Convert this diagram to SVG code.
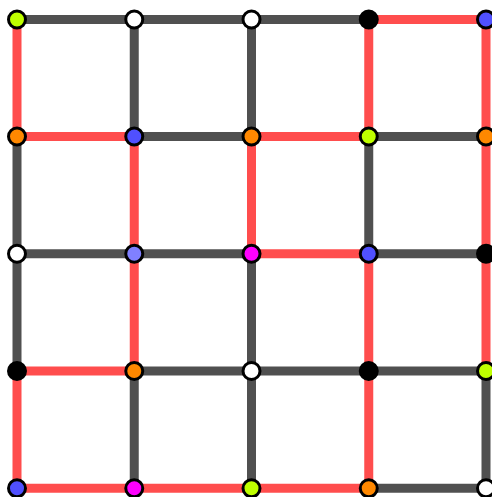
<svg xmlns="http://www.w3.org/2000/svg" width="492" height="497" viewBox="0 0 492 497">
<style>
.g{stroke:#505050;stroke-width:9;fill:none}
.r{stroke:#ff4d4d;stroke-width:9;fill:none}
circle{stroke:#000;stroke-width:3;r:8.5}
</style>
<rect width="492" height="497" fill="#fff"/>
<g id="connectors">
<line class="g" x1="17" y1="19.5" x2="134.25" y2="19.5"/>
<line class="g" x1="134.25" y1="19.5" x2="251.5" y2="19.5"/>
<line class="g" x1="251.5" y1="19.5" x2="368.75" y2="19.5"/>
<line class="r" x1="368.75" y1="19.5" x2="486" y2="19.5"/>
<line class="r" x1="17" y1="136.5" x2="134.25" y2="136.5"/>
<line class="g" x1="134.25" y1="136.5" x2="251.5" y2="136.5"/>
<line class="r" x1="251.5" y1="136.5" x2="368.75" y2="136.5"/>
<line class="g" x1="368.75" y1="136.5" x2="486" y2="136.5"/>
<line class="g" x1="17" y1="253.75" x2="134.25" y2="253.75"/>
<line class="g" x1="134.25" y1="253.75" x2="251.5" y2="253.75"/>
<line class="r" x1="251.5" y1="253.75" x2="368.75" y2="253.75"/>
<line class="g" x1="368.75" y1="253.75" x2="486" y2="253.75"/>
<line class="r" x1="17" y1="371" x2="134.25" y2="371"/>
<line class="g" x1="134.25" y1="371" x2="251.5" y2="371"/>
<line class="g" x1="251.5" y1="371" x2="368.75" y2="371"/>
<line class="g" x1="368.75" y1="371" x2="486" y2="371"/>
<line class="r" x1="17" y1="488.25" x2="134.25" y2="488.25"/>
<line class="r" x1="134.25" y1="488.25" x2="251.5" y2="488.25"/>
<line class="r" x1="251.5" y1="488.25" x2="368.75" y2="488.25"/>
<line class="g" x1="368.75" y1="488.25" x2="486" y2="488.25"/>
<line class="r" x1="17" y1="19.5" x2="17" y2="136.5"/>
<line class="g" x1="17" y1="136.5" x2="17" y2="253.75"/>
<line class="g" x1="17" y1="253.75" x2="17" y2="371"/>
<line class="r" x1="17" y1="371" x2="17" y2="488.25"/>
<line class="g" x1="134.25" y1="19.5" x2="134.25" y2="136.5"/>
<line class="r" x1="134.25" y1="136.5" x2="134.25" y2="253.75"/>
<line class="r" x1="134.25" y1="253.75" x2="134.25" y2="371"/>
<line class="g" x1="134.25" y1="371" x2="134.25" y2="488.25"/>
<line class="g" x1="251.5" y1="19.5" x2="251.5" y2="136.5"/>
<line class="r" x1="251.5" y1="136.5" x2="251.5" y2="253.75"/>
<line class="g" x1="251.5" y1="253.75" x2="251.5" y2="371"/>
<line class="g" x1="251.5" y1="371" x2="251.5" y2="488.25"/>
<line class="r" x1="368.75" y1="19.5" x2="368.75" y2="136.5"/>
<line class="g" x1="368.75" y1="136.5" x2="368.75" y2="253.75"/>
<line class="r" x1="368.75" y1="253.75" x2="368.75" y2="371"/>
<line class="r" x1="368.75" y1="371" x2="368.75" y2="488.25"/>
<line class="r" x1="486" y1="19.5" x2="486" y2="136.5"/>
<line class="r" x1="486" y1="136.5" x2="486" y2="253.75"/>
<line class="r" x1="486" y1="253.75" x2="486" y2="371"/>
<line class="g" x1="486" y1="371" x2="486" y2="488.25"/>
</g>
<g id="n00"><circle cx="17" cy="19.5" r="8.5" fill="#bfff00"/></g>
<g id="n01"><circle cx="134.25" cy="19.5" r="8.5" fill="#fff"/></g>
<g id="n02"><circle cx="251.5" cy="19.5" r="8.5" fill="#fff"/></g>
<g id="n03"><circle cx="368.75" cy="19.5" r="8.5" fill="#000"/></g>
<g id="n04"><circle cx="486" cy="19.5" r="8.5" fill="#5050ff"/></g>
<g id="n10"><circle cx="17" cy="136.5" r="8.5" fill="#ff8800"/></g>
<g id="n11"><circle cx="134.25" cy="136.5" r="8.5" fill="#5050ff"/></g>
<g id="n12"><circle cx="251.5" cy="136.5" r="8.5" fill="#ff8800"/></g>
<g id="n13"><circle cx="368.75" cy="136.5" r="8.5" fill="#bfff00"/></g>
<g id="n14"><circle cx="486" cy="136.5" r="8.5" fill="#ff8800"/></g>
<g id="n20"><circle cx="17" cy="253.75" r="8.5" fill="#fff"/></g>
<g id="n21"><circle cx="134.25" cy="253.75" r="8.5" fill="#8080ff"/></g>
<g id="n22"><circle cx="251.5" cy="253.75" r="8.5" fill="#ff00ff"/></g>
<g id="n23"><circle cx="368.75" cy="253.75" r="8.5" fill="#5050ff"/></g>
<g id="n24"><circle cx="486" cy="253.75" r="8.5" fill="#000"/></g>
<g id="n30"><circle cx="17" cy="371" r="8.5" fill="#000"/></g>
<g id="n31"><circle cx="134.25" cy="371" r="8.5" fill="#ff8800"/></g>
<g id="n32"><circle cx="251.5" cy="371" r="8.5" fill="#fff"/></g>
<g id="n33"><circle cx="368.75" cy="371" r="8.5" fill="#000"/></g>
<g id="n34"><circle cx="486" cy="371" r="8.5" fill="#bfff00"/></g>
<g id="n40"><circle cx="17" cy="488.25" r="8.5" fill="#5050ff"/></g>
<g id="n41"><circle cx="134.25" cy="488.25" r="8.5" fill="#ff00ff"/></g>
<g id="n42"><circle cx="251.5" cy="488.25" r="8.5" fill="#bfff00"/></g>
<g id="n43"><circle cx="368.75" cy="488.25" r="8.5" fill="#ff8800"/></g>
<g id="n44"><circle cx="486" cy="488.25" r="8.5" fill="#fff"/></g>
</svg>
